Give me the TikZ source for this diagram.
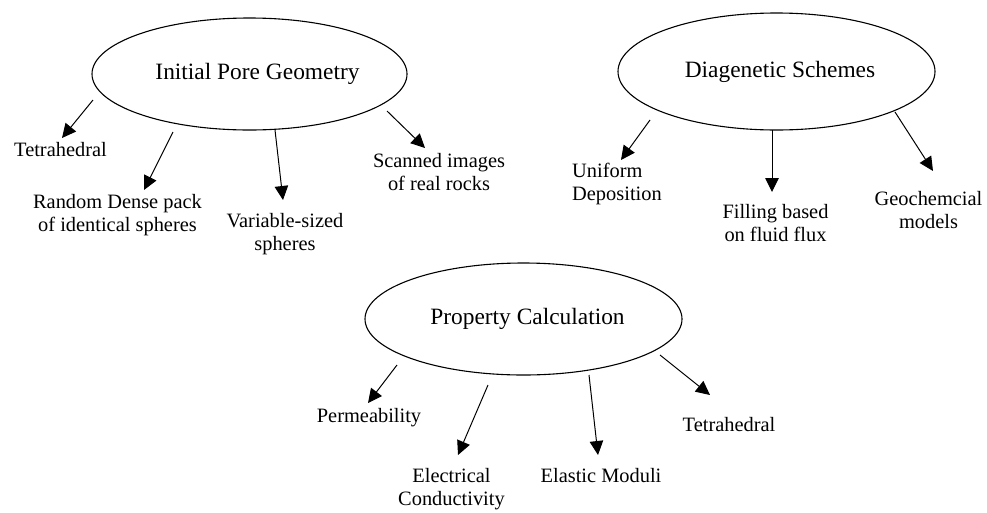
\documentclass[tikz,border=0pt]{standalone}
\usepackage{fontspec}
\setmainfont{Liberation Serif}
\usetikzlibrary{arrows.meta,shapes.geometric}

\tikzset{
  topic/.style={draw, line width=1.1pt, ellipse, inner sep=0pt,
    font=\fontsize{23.4}{28}\selectfont},
  leaf/.style={inner sep=0pt, anchor=north, align=center,
    font=\fontsize{20.4}{23}\selectfont},
  arr/.style={-{Triangle[length=14pt,width=13.5pt]}, line width=1pt},
}

\begin{document}
\begin{tikzpicture}[x=1pt, y=-1pt]
\path[use as bounding box] (0,0) rectangle (987,512);

% three topic ellipses
\node[topic, minimum width=315pt, minimum height=112pt] (pg) at (249.5,74)
  {\hspace*{16pt}Initial Pore Geometry};
\node[topic, minimum width=317pt, minimum height=117pt] (ds) at (776.5,71.5)
  {\hspace*{7pt}Diagenetic Schemes};
\node[topic, minimum width=317pt, minimum height=112pt] (pc) at (523.5,319)
  {\hspace*{8pt}Property Calculation};

% leaves of "Initial Pore Geometry"
\node[leaf] (tetA) at (60.5,142) {Tetrahedral};
\node[leaf] (rdp)  at (117.5,194) {Random Dense pack\\of identical spheres};
\node[leaf] (vss)  at (285,213) {Variable-sized\\spheres};
\node[leaf] (sir)  at (439,153) {Scanned images\\of real rocks};

% leaves of "Diagenetic Schemes"
\node[leaf, anchor=north west, align=left] (ud) at (572,163) {Uniform\\Deposition};
\node[leaf] (fbf) at (775.5,204) {Filling based\\on fluid flux};
\node[leaf] (geo) at (928.5,191) {Geochemcial\\models};

% leaves of "Property Calculation"
\node[leaf] (perm) at (369,408) {Permeability};
\node[leaf] (ec)   at (451.5,468) {Electrical\\Conductivity};
\node[leaf] (em)   at (601,468) {Elastic Moduli};
\node[leaf] (tetB) at (729,417) {Tetrahedral};

% arrows from each topic to its leaves
\draw[arr] ([shift={(-156.5,26)}]pg.center) -- ([shift={(1.5,-4)}]tetA.north);
\draw[arr] ([shift={(-76.5,58)}]pg.center)  -- ([shift={(26.5,-4)}]rdp.north);
\draw[arr] ([shift={(25.5,56)}]pg.center)   -- ([shift={(-2,-13)}]vss.north);
\draw[arr] ([shift={(137.5,37)}]pg.center)  -- ([shift={(-14,-5)}]sir.north);

\draw[arr] ([shift={(-126.5,48.5)}]ds.center) -- ([shift={(49,-3)}]ud.north west);
\draw[arr] ([shift={(-4.5,58.5)}]ds.center)   -- ([shift={(-3.5,-12)}]fbf.north);
\draw[arr] ([shift={(118.5,40.5)}]ds.center)  -- ([shift={(4.5,-20)}]geo.north);

\draw[arr] ([shift={(-126.5,46)}]pc.center) -- ([shift={(-1,-5)}]perm.north);
\draw[arr] ([shift={(-35.5,66)}]pc.center)  -- ([shift={(6.5,-13)}]ec.north);
\draw[arr] ([shift={(65.5,56)}]pc.center)   -- ([shift={(-3,-13)}]em.north);
\draw[arr] ([shift={(136.5,36)}]pc.center)  -- ([shift={(-19,-22)}]tetB.north);
\end{tikzpicture}
\end{document}
